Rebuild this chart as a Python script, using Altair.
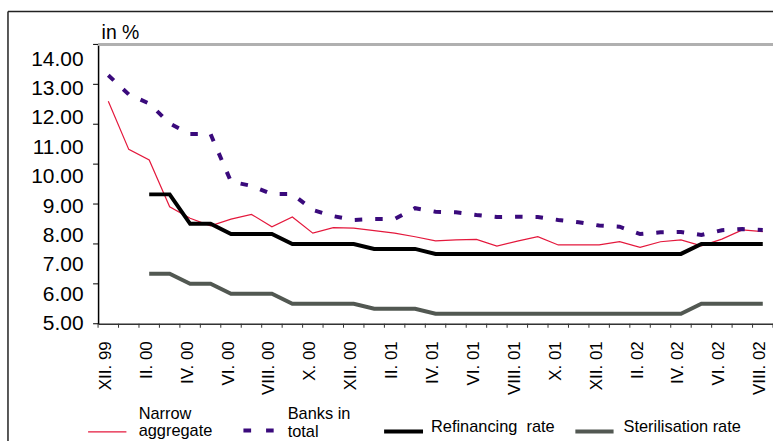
import altair as alt
import pandas as pd

# ---- data ----
months = ["XII. 99", "I. 00", "II. 00", "III. 00", "IV. 00", "V. 00", "VI. 00", "VII. 00",
          "VIII. 00", "IX. 00", "X. 00", "XI. 00", "XII. 00", "I. 01", "II. 01", "III. 01",
          "IV. 01", "V. 01", "VI. 01", "VII. 01", "VIII. 01", "IX. 01", "X. 01", "XI. 01",
          "XII. 01", "I. 02", "II. 02", "III. 02", "IV. 02", "V. 02", "VI. 02", "VII. 02",
          "VIII. 02"]

narrow = [12.57, 10.93, 10.57, 8.98, 8.59, 8.33, 8.56, 8.72, 8.30, 8.63, 8.08, 8.27, 8.25,
          8.17, 8.08, 7.96, 7.82, 7.85, 7.87, 7.64, 7.81, 7.96, 7.68, 7.68, 7.68, 7.79,
          7.60, 7.79, 7.85, 7.65, 7.88, 8.19, 8.13]

banks = [13.45, 12.80, 12.49, 11.81, 11.45, 11.45, 9.83, 9.69, 9.41, 9.41, 8.87, 8.66, 8.53,
         8.56, 8.56, 8.93, 8.81, 8.79, 8.70, 8.63, 8.64, 8.63, 8.53, 8.45, 8.34, 8.30,
         8.05, 8.11, 8.12, 8.02, 8.18, 8.22, 8.19]

refinancing = [None, None, 9.40, 9.40, 8.40, 8.40, 8.05, 8.05, 8.05, 7.71, 7.71, 7.71, 7.71,
               7.545, 7.545, 7.545, 7.375, 7.375, 7.375, 7.375, 7.375, 7.375, 7.375, 7.375,
               7.375, 7.375, 7.375, 7.375, 7.375, 7.71, 7.71, 7.71, 7.71]

sterilisation = [None, None, 6.70, 6.70, 6.36, 6.36, 6.02, 6.02, 6.02, 5.68, 5.68, 5.68, 5.68,
                 5.51, 5.51, 5.51, 5.34, 5.34, 5.34, 5.34, 5.34, 5.34, 5.34, 5.34, 5.34,
                 5.34, 5.34, 5.34, 5.34, 5.68, 5.68, 5.68, 5.68]

y_labels = [5, 6, 7, 8, 9, 10, 11, 12, 13, 14]
x_label_idx = list(range(0, 33, 2))

FONT = "Liberation Sans"
W = 676.5
H = 280
Y_DOMAIN = [5, 14.5]

def series_df(vals):
    return pd.DataFrame([{"i": i, "v": v} for i, v in enumerate(vals) if v is not None])

xs = alt.Scale(domain=[-0.5, 32.5], nice=False, zero=False)
ys = alt.Scale(domain=Y_DOMAIN, nice=False, zero=False)

label_array = "[" + ",".join("'" + m + "'" for m in months) + "]"

x_axis = alt.Axis(values=x_label_idx, labelExpr=label_array + "[datum.value]", labelAngle=270,
                  labelFontSize=17, labelFont=FONT, labelColor="black", ticks=False, tickSize=0,
                  labelPadding=17, labelOffset=-3, grid=False, domainColor="#333333",
                  domainWidth=1.5, labelFlush=False, labelOverlap=False, title=None)
y_axis = alt.Axis(values=y_labels, format=".2f", labelFontSize=21, labelFont=FONT,
                  labelColor="black", ticks=False, tickSize=0, labelPadding=15, grid=False,
                  domainColor="black", domainWidth=1.5, labelFlush=False, labelOverlap=False,
                  title="in %", titleAngle=0, titleAlign="left", titleBaseline="alphabetic",
                  titleX=3, titleY=-6, titleFontSize=19.5, titleFont=FONT,
                  titleFontWeight="normal", titleColor="black")

def line(vals, color, width, dash=None):
    kw = dict(color=color, strokeWidth=width, strokeJoin="miter", strokeCap="butt")
    if dash:
        kw["strokeDash"] = dash
    return alt.Chart(series_df(vals)).mark_line(**kw).encode(
        x=alt.X("i:Q", scale=xs, axis=x_axis),
        y=alt.Y("v:Q", scale=ys, axis=y_axis),
    )

l_narrow = line(narrow, "#e4183c", 1.2)
l_banks = line(banks, "#3a0a7c", 4, dash=[7.5, 13])
l_refi = line(refinancing, "#000000", 4)
l_ster = line(sterilisation, "#525852", 4)

# tick marks of the axes (between categories on x, 7 equal parts on y)
x_ticks = pd.DataFrame({"i": [k - 0.5 for k in range(34)]})
y_ticks = pd.DataFrame({"v": [Y_DOMAIN[0] + k * (Y_DOMAIN[1] - Y_DOMAIN[0]) / 7 for k in range(8)]})
xt = alt.Chart(x_ticks).mark_rule(color="#333333", strokeWidth=1).encode(
    x=alt.X("i:Q", scale=xs, axis=x_axis), y=alt.value(H), y2=alt.value(H + 4))
yt = alt.Chart(y_ticks).mark_rule(color="black", strokeWidth=1).encode(
    y=alt.Y("v:Q", scale=ys, axis=y_axis), x=alt.value(-5), x2=alt.value(0))

one = pd.DataFrame({"a": [0]})
top_line = alt.Chart(one).mark_rule(color="#b0b0b0", strokeWidth=3).encode(
    x=alt.value(0), x2=alt.value(W), y=alt.value(0))
frame_left = alt.Chart(one).mark_rule(color="#222222", strokeWidth=1.5).encode(
    x=alt.value(-90.3), y=alt.value(-33), y2=alt.value(400))
frame_top = alt.Chart(one).mark_rule(color="#222222", strokeWidth=1.5).encode(
    x=alt.value(-90.3), x2=alt.value(700), y=alt.value(-33))

def leg_line(x1, x2, y, color, width, dash=None):
    kw = dict(color=color, strokeWidth=width, strokeCap="butt")
    if dash:
        kw["strokeDash"] = dash
    return alt.Chart(one).mark_rule(**kw).encode(x=alt.value(x1), x2=alt.value(x2), y=alt.value(y))

def leg_text(txt, x, y):
    return alt.Chart(pd.DataFrame({"t": [txt]})).mark_text(
        align="left", baseline="alphabetic", fontSize=16.4, font=FONT, color="black").encode(
        x=alt.value(x), y=alt.value(y), text="t:N")

legend = [
    leg_line(-10, 28.4, 388.3, "#e4183c", 1.2),
    leg_text("Narrow", 40.7, 375.3),
    leg_text("aggregate", 40.7, 393),
    leg_line(145.7, 176, 387, "#3a0a7c", 4, dash=[7.7, 15]),
    leg_text("Banks in", 190, 375.8),
    leg_text("total", 190, 393.5),
    leg_line(286.7, 325.7, 388, "#000000", 4),
    leg_text("Refinancing\u00a0 rate", 333.7, 388.3),
    leg_line(478.4, 516.7, 388, "#525852", 4),
    leg_text("Sterilisation rate", 526.7, 388.3),
]

chart = alt.layer(
    l_narrow, l_banks, l_refi, l_ster, top_line, xt, yt, frame_left, frame_top, *legend
).properties(
    width=W, height=H,
    autosize=alt.AutoSizeParams(type="none"),
    padding={"left": 98.3, "top": 44, "right": 0, "bottom": 117},
).configure_view(stroke=None).configure(background="white")

chart.save("out.html", embed_options={"renderer": "svg", "actions": False})
